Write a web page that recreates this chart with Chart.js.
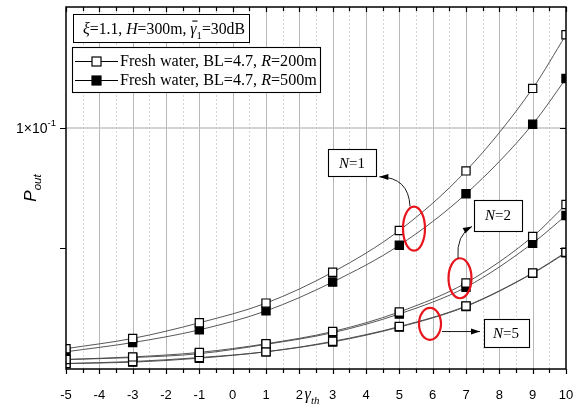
<!DOCTYPE html>
<html>
<head>
<meta charset="utf-8">
<script src="https://cdn.jsdelivr.net/npm/chart.js@4.4.1/dist/chart.umd.min.js"></script>
<style>
  html, body { margin: 0; padding: 0; background: #fff; }
  canvas { display: block; }
</style>
</head>
<body>
<canvas id="c" width="585" height="407"></canvas>
<script>
// gamma_th values (dB) where the curves were sampled
const gammaTh = [-5, -3, -1, 1, 3, 5, 7, 9, 10];

// outage probability, open squares = R=200m, filled = R=500m
const n1R200 = [0.0281, 0.0298, 0.0326, 0.0365, 0.0436, 0.0554, 0.0780, 0.1253, 0.1705];
const n1R500 = [0.0276, 0.0291, 0.0313, 0.0349, 0.0412, 0.0509, 0.0684, 0.1020, 0.1326];
const n2R200 = [0.0264, 0.0268, 0.0275, 0.0289, 0.0310, 0.0347, 0.0410, 0.0535, 0.0643];
const n2R500 = [0.0264, 0.0267, 0.0273, 0.0288, 0.0308, 0.0343, 0.0400, 0.0515, 0.0604];
const n5R200 = [0.0258, 0.0261, 0.0267, 0.0276, 0.0293, 0.0319, 0.0359, 0.0434, 0.0489];
const n5R500 = [0.0258, 0.0260, 0.0266, 0.0276, 0.0292, 0.0318, 0.0358, 0.0433, 0.0487];

// axis ticks
const xMin = -5, xMax = 10;
const yMin = 0.025, yMax = 0.2;
const yTickValues = [0.05, 0.1];
const yTickLabels = [null, { base: '1×10', exp: '-1' }];

// legend text
const legendNames = ['R=200m', 'R=500m'];
const paramText = [
  { t: 'ξ', it: true }, { t: '=1.1, ' }, { t: 'H', it: true }, { t: '=300m, ' },
  { t: 'γ', it: true, bar: true }, { t: '1', sub: true }, { t: '=30dB' }
];

// annotations in data units: box centre, ellipse centre + radii, arrow (start, control, end)
const notes = [
  { n: '1', box: [3.58, 0.0817], size: [48, 27], ell: [5.44, 0.0560, 11, 22],
    arrow: [[5.32, 0.0636], [5.28, 0.0752], [4.40, 0.0754]] },
  { n: '2', box: [7.96, 0.0604], size: [48, 31], ell: [6.82, 0.0421, 11.5, 20],
    arrow: [[6.76, 0.0472], [6.70, 0.0540], [7.18, 0.0567]] },
  { n: '5', box: [8.20, 0.0308], size: [45, 28], ell: [5.92, 0.0324, 11, 16],
    arrow: [[6.28, 0.0310], [6.85, 0.0310], [7.42, 0.0310]] }
];

const SANS = "Arial, 'Liberation Sans', sans-serif";
const SERIF = "'Times New Roman', 'Liberation Serif', serif";

function pts(arr) {
  return gammaTh.map((x, i) => ({ x: x, y: arr[i] }));
}

function series(arr, filled) {
  return {
    data: pts(arr),
    borderColor: '#444',
    borderWidth: 0.9,
    pointStyle: 'rect',
    pointRadius: 5.8,
    pointBackgroundColor: filled ? '#000' : '#fff',
    pointBorderColor: '#000',
    pointBorderWidth: 1.2,
    cubicInterpolationMode: 'monotone',
    fill: false
  };
}

// text made of runs (italic / sub / sup / overline)
function runs(ctx, x, y, list, size, family, draw) {
  for (const r of list) {
    const s = (r.sub || r.sup) ? size * 0.68 : size;
    ctx.font = (r.it ? 'italic ' : '') + s + 'px ' + family;
    const dy = r.sub ? size * 0.3 : (r.sup ? -size * 0.42 : 0);
    const w = ctx.measureText(r.t).width;
    if (draw) {
      ctx.fillText(r.t, x, y + dy);
      if (r.bar) {
        ctx.beginPath();
        ctx.lineWidth = 1.1;
        ctx.moveTo(x + 2, y - size * 0.82);
        ctx.lineTo(x + w + 1, y - size * 0.82);
        ctx.stroke();
      }
    }
    x += w;
  }
  return x;
}

function fitSize(ctx, list, family, target) {
  const w = runs(ctx, 0, 0, list, 14, family, false);
  return 14 * target / w;
}

function arrowHead(ctx, from, to) {
  const a = Math.atan2(to[1] - from[1], to[0] - from[0]);
  ctx.beginPath();
  ctx.moveTo(to[0], to[1]);
  ctx.lineTo(to[0] - 9 * Math.cos(a) + 3 * Math.sin(a), to[1] - 9 * Math.sin(a) - 3 * Math.cos(a));
  ctx.lineTo(to[0] - 9 * Math.cos(a) - 3 * Math.sin(a), to[1] - 9 * Math.sin(a) + 3 * Math.cos(a));
  ctx.closePath();
  ctx.fill();
}

const decor = {
  id: 'decor',
  beforeDatasetsDraw(chart) {
    const { ctx, chartArea: a, scales: { x, y } } = chart;
    ctx.save();
    // vertical grid: solid at integers, dashed at halves
    for (let v = xMin + 0.5; v < xMax; v += 0.5) {
      const px = Math.round(x.getPixelForValue(v)) + 0.5;
      const major = Math.abs(v - Math.round(v)) < 1e-6;
      ctx.beginPath();
      ctx.setLineDash(major ? [] : [2, 2]);
      ctx.strokeStyle = major ? '#b8b8b8' : '#d6d6d6';
      ctx.lineWidth = 1;
      ctx.moveTo(px, a.top);
      ctx.lineTo(px, a.bottom);
      ctx.stroke();
    }
    ctx.setLineDash([]);
    // horizontal grid at the labelled decade
    const gy = Math.round(y.getPixelForValue(0.1));
    ctx.beginPath();
    ctx.strokeStyle = '#c4c4c4';
    ctx.lineWidth = 1.6;
    ctx.moveTo(a.left, gy);
    ctx.lineTo(a.right, gy);
    ctx.stroke();
    ctx.restore();
  },
  afterDatasetsDraw(chart) {
    const { ctx, chartArea: a, scales: { x, y } } = chart;
    ctx.save();
    ctx.fillStyle = '#000';
    ctx.strokeStyle = '#000';

    // ticks
    ctx.lineWidth = 1.2;
    for (let v = xMin; v <= xMax + 1e-9; v += 0.5) {
      const px = Math.round(x.getPixelForValue(v)) + 0.5;
      const len = Math.abs(v - Math.round(v)) < 1e-6 ? 5 : 4;
      ctx.beginPath();
      ctx.moveTo(px, a.bottom); ctx.lineTo(px, a.bottom + len);
      ctx.moveTo(px, a.top); ctx.lineTo(px, a.top + len);
      ctx.stroke();
    }
    yTickValues.forEach((v, i) => {
      const py = Math.round(y.getPixelForValue(v)) + 0.5;
      ctx.beginPath();
      ctx.moveTo(a.left - 6, py); ctx.lineTo(a.left, py);
      ctx.moveTo(a.right, py); ctx.lineTo(a.right - 6, py);
      ctx.stroke();
      const lab = yTickLabels[i];
      if (lab) {
        ctx.textBaseline = 'middle';
        ctx.font = '9.5px ' + SANS;
        const we = ctx.measureText(lab.exp).width;
        ctx.fillText(lab.exp, a.left - 10 - we, py - 5);
        ctx.font = '14px ' + SANS;
        const wb = ctx.measureText(lab.base).width;
        ctx.fillText(lab.base, a.left - 10 - we - wb, py + 1);
      }
    });

    // frame
    ctx.lineWidth = 1.5;
    ctx.strokeRect(a.left, a.top, a.right - a.left, a.bottom - a.top);

    // axis titles
    ctx.textBaseline = 'alphabetic';
    ctx.save();
    ctx.translate(36, (a.top + a.bottom) / 2);
    ctx.rotate(-Math.PI / 2);
    const pl = [{ t: 'P', it: true }, { t: 'out', it: true, sub: true }];
    const pw = runs(ctx, 0, 0, pl, 17, SANS, false);
    runs(ctx, -pw / 2, 0, pl, 17, SANS, true);
    ctx.restore();
    const gl = [{ t: 'γ', it: true }, { t: 'th', it: true, sub: true }];
    const gw = runs(ctx, 0, 0, gl, 16, SERIF, false);
    runs(ctx, (a.left + a.right) / 2 - gw / 2 - 4, 399, gl, 16, SERIF, true);

    // parameter box
    const b1 = { l: a.left + 7, t: a.top + 7, w: 176, h: 28 };
    ctx.fillStyle = '#fff';
    ctx.fillRect(b1.l, b1.t, b1.w, b1.h);
    ctx.lineWidth = 1;
    ctx.strokeRect(b1.l + 0.5, b1.t + 0.5, b1.w, b1.h);
    ctx.fillStyle = '#000';
    const s1 = fitSize(ctx, paramText, SERIF, 162);
    runs(ctx, b1.l + 10, b1.t + 20, paramText, s1, SERIF, true);

    // series legend
    const b2 = { l: a.left + 6, t: a.top + 40, w: 248, h: 45 };
    ctx.fillStyle = '#fff';
    ctx.fillRect(b2.l, b2.t, b2.w, b2.h);
    ctx.strokeRect(b2.l + 0.5, b2.t + 0.5, b2.w, b2.h);
    legendNames.forEach((nm, i) => {
      const cy = b2.t + 14 + i * 19;
      ctx.beginPath();
      ctx.strokeStyle = '#000';
      ctx.lineWidth = 1;
      ctx.moveTo(b2.l + 3, cy + 0.5);
      ctx.lineTo(b2.l + 46, cy + 0.5);
      ctx.stroke();
      ctx.fillStyle = i === 0 ? '#fff' : '#000';
      ctx.fillRect(b2.l + 20, cy - 4, 9, 9);
      ctx.lineWidth = 1.2;
      ctx.strokeRect(b2.l + 20, cy - 4, 9, 9);
      ctx.fillStyle = '#000';
      const list = [{ t: 'Fresh water, BL=4.7, ' }, { t: nm.split('=')[0], it: true }, { t: '=' + nm.split('=')[1] }];
      const s2 = fitSize(ctx, list, SERIF, 197);
      runs(ctx, b2.l + 48, cy + 5, list, s2, SERIF, true);
    });

    // annotations
    notes.forEach(nt => {
      const ex = x.getPixelForValue(nt.ell[0]), ey = y.getPixelForValue(nt.ell[1]);
      ctx.beginPath();
      ctx.strokeStyle = '#e8141c';
      ctx.lineWidth = 2.2;
      ctx.ellipse(ex, ey, nt.ell[2], nt.ell[3], 0, 0, Math.PI * 2);
      ctx.stroke();

      const p = nt.arrow.map(q => [x.getPixelForValue(q[0]), y.getPixelForValue(q[1])]);
      ctx.beginPath();
      ctx.strokeStyle = '#000';
      ctx.lineWidth = 0.9;
      ctx.moveTo(p[0][0], p[0][1]);
      ctx.quadraticCurveTo(p[1][0], p[1][1], p[2][0], p[2][1]);
      ctx.stroke();
      arrowHead(ctx, p[1], p[2]);

      const bx = x.getPixelForValue(nt.box[0]), by = y.getPixelForValue(nt.box[1]);
      const [bw, bh] = nt.size;
      const l = Math.round(bx - bw / 2) + 0.5, t = Math.round(by - bh / 2) + 0.5;
      ctx.fillStyle = '#fff';
      ctx.fillRect(l, t, bw, bh);
      ctx.lineWidth = 1.1;
      ctx.strokeRect(l, t, bw, bh);
      ctx.fillStyle = '#000';
      const list = [{ t: 'N', it: true }, { t: '=' + nt.n }];
      const w = runs(ctx, 0, 0, list, 15, SERIF, false);
      runs(ctx, bx - w / 2, by + 5, list, 15, SERIF, true);
    });
    ctx.restore();
  }
};

new Chart(document.getElementById('c'), {
  type: 'line',
  data: {
    datasets: [
      series(n1R200, false), series(n2R200, false), series(n5R200, false),
      series(n1R500, true), series(n2R500, true), series(n5R500, true)
    ]
  },
  options: {
    responsive: false,
    animation: false,
    layout: { padding: { left: 0, right: 19, top: 5, bottom: 0 } },
    plugins: { legend: { display: false }, tooltip: { enabled: false } },
    scales: {
      x: {
        type: 'linear', min: xMin, max: xMax,
        ticks: { stepSize: 1, autoSkip: false, maxRotation: 0, padding: 11, color: '#000',
                 font: { family: SANS, size: 13 } },
        grid: { display: false }, border: { display: false },
        afterFit: s => { s.height = 38; }
      },
      y: {
        type: 'logarithmic', min: yMin, max: yMax,
        ticks: { display: false },
        grid: { display: false }, border: { display: false },
        afterFit: s => { s.width = 66; }
      }
    }
  },
  plugins: [decor]
});
</script>
</body>
</html>
